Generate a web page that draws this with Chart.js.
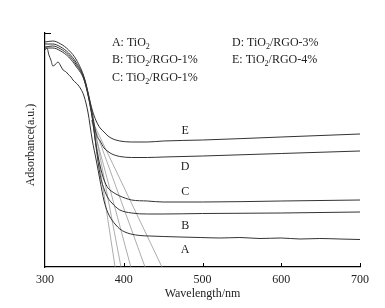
<!DOCTYPE html>
<html>
<head>
<meta charset="utf-8">
<script src="https://cdn.jsdelivr.net/npm/chart.js@4/dist/chart.umd.min.js"></script>
<style>
  html, body { margin: 0; padding: 0; background: #fff; }
  canvas { display: block; }
</style>
</head>
<body>
<canvas id="uvChart" width="385" height="308"></canvas>
<script>
// wavelength grid shared by curves B-E (nm)
const wlGrid = [300, 310, 320, 330, 340, 350, 360, 365, 370, 375, 380, 385, 390, 395, 410, 430, 450, 500, 600, 700];

const absE = [2.25, 2.26, 2.23, 2.17, 2.07, 1.89, 1.57, 1.46, 1.39, 1.35, 1.31, 1.285, 1.27, 1.26, 1.25, 1.25, 1.26, 1.27, 1.30, 1.33];
const absD = [2.23, 2.23, 2.20, 2.14, 2.04, 1.88, 1.54, 1.33, 1.26, 1.19, 1.155, 1.13, 1.115, 1.105, 1.095, 1.095, 1.10, 1.11, 1.135, 1.16];
const absC = [2.20, 2.21, 2.18, 2.12, 2.02, 1.87, 1.50, 1.21, 1.01, 0.87, 0.79, 0.755, 0.73, 0.71, 0.67, 0.66, 0.65, 0.65, 0.66, 0.67];
const absB = [2.19, 2.19, 2.16, 2.10, 2.00, 1.86, 1.49, 1.19, 0.92, 0.78, 0.69, 0.64, 0.60, 0.57, 0.54, 0.53, 0.53, 0.535, 0.54, 0.55];

// curve A (pure TiO2) is noisier, read on its own grid
const wlA = [300, 302.5, 305, 307.5, 310, 312.5, 316.5, 320, 323, 327, 329, 333, 335.5, 339.5, 342, 345.5, 349.5, 354.5, 360, 365, 370, 375, 380, 385, 390, 395, 401.5, 409, 420.5, 433, 450, 471.5, 497, 522, 547.5, 573, 600, 624, 649, 674.5, 700];
const absA = [2.17, 2.19, 2.12, 2.07, 2.01, 2.02, 2.05, 2.01, 1.97, 1.95, 1.93, 1.90, 1.87, 1.84, 1.82, 1.78, 1.71, 1.55, 1.27, 1.07, 0.86, 0.66, 0.54, 0.47, 0.42, 0.38, 0.35, 0.33, 0.315, 0.31, 0.305, 0.30, 0.295, 0.29, 0.295, 0.285, 0.29, 0.28, 0.285, 0.28, 0.275];

// band-edge tangent lines: start point and x-axis intercept
const tangentStartWl = [360.5, 361, 359, 359.5, 359.5];
const tangentStartAbs = [1.47, 1.47, 1.47, 1.47, 1.47];
const tangentEndWl = [389, 396.5, 409, 427, 448.5];

const xTicks = [300, 400, 500, 600, 700];
const curveLabels = ['E', 'D', 'C', 'B', 'A'];
const legendItems = [
  ['A: TiO', '2', ''],
  ['B: TiO', '2', '/RGO-1%'],
  ['C: TiO', '2', '/RGO-1%'],
  ['D: TiO', '2', '/RGO-3%'],
  ['E: TiO', '2', '/RGO-4%']
];
const xTitle = 'Wavelength/nm';
const yTitle = 'Adsorbance(a.u.)';

// annotation placement (data units)
const curveLabelAt = { x: 478, y: [1.36, 1.00, 0.75, 0.41, 0.17] };
const legendAt = { x: [385, 385, 385, 537.5, 537.5], y: [2.24, 2.07, 1.89, 2.24, 2.07] };

const serif = '"Liberation Serif", "Times New Roman", serif';
const ink = '#222';

function toPoints(xs, ys) {
  return xs.map((v, i) => ({ x: v, y: ys[i] }));
}

const curveStyle = { borderColor: '#333', borderWidth: 1, pointRadius: 0, showLine: true, cubicInterpolationMode: 'monotone' };

const datasets = [
  { label: 'E', data: toPoints(wlGrid, absE), ...curveStyle },
  { label: 'D', data: toPoints(wlGrid, absD), ...curveStyle },
  { label: 'C', data: toPoints(wlGrid, absC), ...curveStyle },
  { label: 'B', data: toPoints(wlGrid, absB), ...curveStyle },
  { label: 'A', data: toPoints(wlA, absA), ...curveStyle }
];

tangentEndWl.forEach((end, i) => {
  datasets.push({
    label: 'tangent ' + (i + 1),
    data: [{ x: tangentStartWl[i], y: tangentStartAbs[i] }, { x: end, y: 0 }],
    borderColor: '#8a8a8a',
    borderWidth: 0.7,
    pointRadius: 0,
    showLine: true,
    tension: 0
  });
});

const overlay = {
  id: 'overlay',
  afterDraw(chart) {
    const { ctx, scales: { x, y } } = chart;
    ctx.save();

    // inward tick marks
    ctx.strokeStyle = '#000';
    ctx.lineWidth = 1;
    ctx.beginPath();
    xTicks.forEach(v => {
      if (v === 300) return;
      const px = Math.round(x.getPixelForValue(v)) + 0.5;
      ctx.moveTo(px, y.bottom);
      ctx.lineTo(px, y.bottom - 4);
    });
    ctx.moveTo(x.left, Math.round(y.top) + 0.5);
    ctx.lineTo(x.left + 6, Math.round(y.top) + 0.5);
    ctx.stroke();

    ctx.fillStyle = ink;
    ctx.textBaseline = 'middle';

    // curve letters
    ctx.font = '12px ' + serif;
    ctx.textAlign = 'center';
    curveLabels.forEach((t, i) => {
      ctx.fillText(t, x.getPixelForValue(curveLabelAt.x), y.getPixelForValue(curveLabelAt.y[i]));
    });

    // legend text with subscript
    ctx.textAlign = 'left';
    legendItems.forEach((item, i) => {
      let px = x.getPixelForValue(legendAt.x[i]);
      const py = y.getPixelForValue(legendAt.y[i]);
      ctx.font = '12px ' + serif;
      ctx.fillText(item[0], px, py);
      px += ctx.measureText(item[0]).width;
      ctx.font = '8px ' + serif;
      ctx.fillText(item[1], px, py + 4);
      px += ctx.measureText(item[1]).width;
      ctx.font = '12px ' + serif;
      ctx.fillText(item[2], px, py);
    });

    // axis titles
    ctx.font = '12px ' + serif;
    ctx.textAlign = 'center';
    ctx.fillText(xTitle, (x.left + x.right) / 2, 294);
    ctx.translate(31, 145);
    ctx.rotate(-Math.PI / 2);
    ctx.fillText(yTitle, 0, 0);

    ctx.restore();
  }
};

new Chart(document.getElementById('uvChart'), {
  type: 'scatter',
  data: { datasets },
  options: {
    responsive: false,
    animation: false,
    devicePixelRatio: 1,
    layout: { padding: { top: 33, right: 25, left: 0, bottom: 0 } },
    plugins: { legend: { display: false }, tooltip: { enabled: false } },
    scales: {
      x: {
        type: 'linear',
        min: 300,
        max: 700,
        afterBuildTicks: s => { s.ticks = xTicks.map(v => ({ value: v })); },
        afterFit: s => { s.height = 41; },
        grid: { display: false, drawTicks: false },
        border: { display: true, color: '#000', width: 1.2 },
        ticks: { color: ink, font: { family: serif, size: 12 }, padding: 6, maxRotation: 0 }
      },
      y: {
        type: 'linear',
        min: 0,
        max: 2.34,
        afterFit: s => { s.width = 45; },
        grid: { display: false, drawTicks: false },
        border: { display: true, color: '#000', width: 1.2 },
        ticks: { display: false }
      }
    }
  },
  plugins: [overlay]
});
</script>
</body>
</html>
